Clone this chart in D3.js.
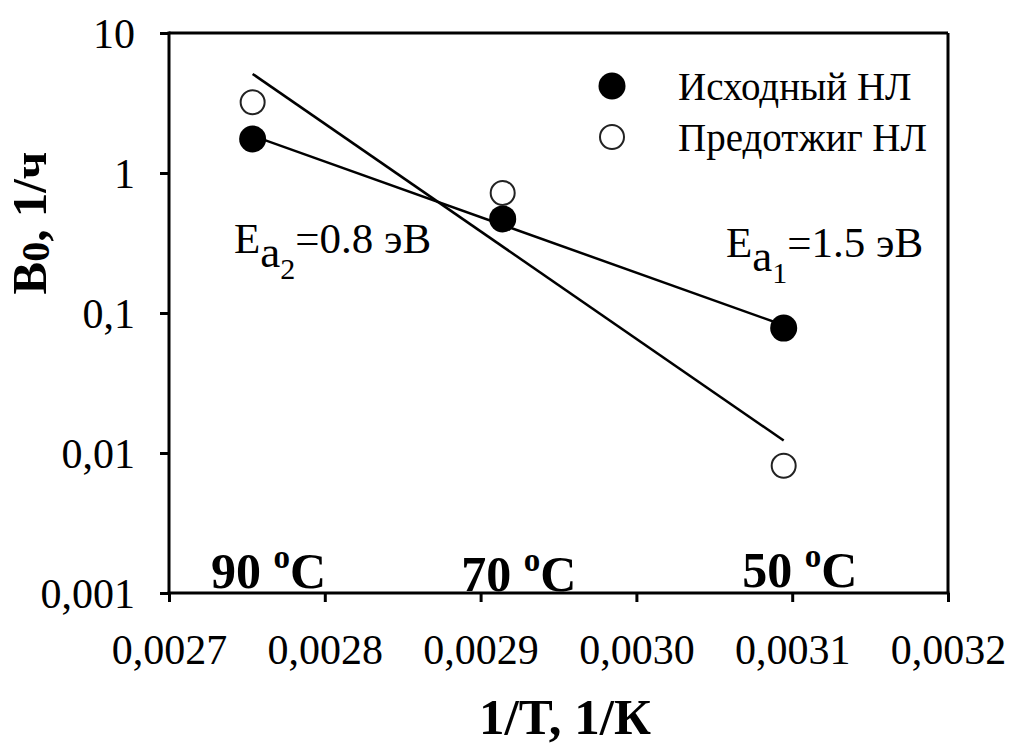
<!DOCTYPE html>
<html><head><meta charset="utf-8">
<script src="https://cdn.jsdelivr.net/npm/d3@7"></script>
<style>
html,body{margin:0;padding:0;background:#fff;}
</style></head>
<body>
<svg id="chart" width="1011" height="747"></svg>
<script>
// ---- data ----
const tempLabels = ["90", "70", "50"];
const invT = [1/363.15, 1/343.15, 1/323.15];
const filledB0 = [1.75, 0.47, 0.078];   // Исходный НЛ
const openB0 = [3.2, 0.72, 0.0081];     // Предотжиг НЛ
const xTicks = [0.0027, 0.0028, 0.0029, 0.0030, 0.0031, 0.0032];
const xTickLabels = ["0,0027", "0,0028", "0,0029", "0,0030", "0,0031", "0,0032"];
const yTicks = [10, 1, 0.1, 0.01, 0.001];
const yTickLabels = ["10", "1", "0,1", "0,01", "0,001"];
const seriesNames = ["Исходный НЛ", "Предотжиг НЛ"];

const FONT = "'Liberation Serif', 'Times New Roman', Times, serif";
const svg = d3.select("#chart");
const L = 169, R = 948, T = 33, B = 593;
const x = d3.scaleLinear().domain([0.0027, 0.0032]).range([L, R]);
const y = d3.scaleLog().domain([0.001, 10]).range([B, T]);

// frame
const frame = svg.append("g");
frame.append("line").attr("x1", L).attr("x2", R).attr("y1", T).attr("y2", T).attr("stroke", "#000").attr("stroke-width", 3);
frame.append("line").attr("x1", R).attr("x2", R).attr("y1", T).attr("y2", B).attr("stroke", "#000").attr("stroke-width", 3);

// axes
const xAxis = d3.axisBottom(x).tickValues(xTicks).tickFormat((d, i) => xTickLabels[i]).tickSize(9).tickPadding(32);
const gx = svg.append("g").attr("transform", `translate(0,${B})`).call(xAxis);
gx.attr("font-family", null).attr("font-size", null);
gx.select(".domain").attr("stroke-width", 3).attr("d", `M${L-1.5},0H${R+1.5}`);
gx.selectAll(".tick line").attr("stroke-width", 3);
gx.selectAll("text").style("font-size", "42px").attr("dy", "0.71em");

const yAxis = d3.axisLeft(y).tickValues(yTicks).tickFormat((d, i) => yTickLabels[i]).tickSize(9).tickPadding(25);
const gy = svg.append("g").attr("transform", `translate(${L},0)`).call(yAxis);
gy.attr("font-family", null).attr("font-size", null);
gy.select(".domain").attr("stroke-width", 3).attr("d", `M0,${T-1.5}V${B+1.5}`);
gy.selectAll(".tick line").attr("stroke-width", 3);
gy.selectAll("text").style("font-size", "42px").attr("dy", "0.34em");

// regression fit in log space
function fit(xs, ys) {
  const ly = ys.map(v => Math.log10(v));
  const mx = d3.mean(xs), my = d3.mean(ly);
  const sxy = d3.sum(xs, (v, i) => (v - mx) * (ly[i] - my));
  const sxx = d3.sum(xs, v => (v - mx) ** 2);
  const b = sxy / sxx, a = my - b * mx;
  const x0 = d3.min(xs), x1 = d3.max(xs);
  return [[x0, Math.pow(10, a + b * x0)], [x1, Math.pow(10, a + b * x1)]];
}
const line = d3.line().x(d => x(d[0])).y(d => y(d[1]));
svg.append("path").attr("d", line(fit(invT, filledB0))).attr("fill", "none").attr("stroke", "#000").attr("stroke-width", 2.5);
svg.append("path").attr("d", line(fit(invT, openB0))).attr("fill", "none").attr("stroke", "#000").attr("stroke-width", 2.5);

// points
svg.selectAll(".pf").data(invT.map((v, i) => [v, filledB0[i]])).enter().append("circle")
  .attr("cx", d => x(d[0])).attr("cy", d => y(d[1])).attr("r", 13.5).attr("fill", "#000");
svg.selectAll(".po").data(invT.map((v, i) => [v, openB0[i]])).enter().append("circle")
  .attr("cx", d => x(d[0])).attr("cy", d => y(d[1])).attr("r", 12).attr("fill", "#fff").attr("stroke", "#222").attr("stroke-width", 2);

// legend
const leg = svg.append("g");
leg.append("circle").attr("cx", 612).attr("cy", 86).attr("r", 13.5).attr("fill", "#000");
leg.append("circle").attr("cx", 612).attr("cy", 137).attr("r", 12).attr("fill", "#fff").attr("stroke", "#222").attr("stroke-width", 2);
leg.append("text").attr("x", 678).attr("y", 100).style("font-size", "39px").text(seriesNames[0]);
leg.append("text").attr("x", 678).attr("y", 151).style("font-size", "39px").text(seriesNames[1]);

// temperature labels
const tempY = [588, 591, 587];
tempLabels.forEach((t, i) => {
  const tx = svg.append("text").attr("x", x(invT[i]) + 16).attr("y", tempY[i]).attr("text-anchor", "middle")
    .style("font-size", "50px").style("font-weight", "bold");
  tx.append("tspan").text(t + " ");
  tx.append("tspan").attr("dy", -20).style("font-size", "33px").text("o");
  tx.append("tspan").attr("dy", 20).text("C");
});

// activation energies
function ea(xp, yp, sub, val) {
  const t = svg.append("text").attr("x", xp).attr("y", yp).style("font-size", "43px");
  t.append("tspan").text("E");
  t.append("tspan").attr("dy", 14).style("font-size", "45px").text("a");
  t.append("tspan").attr("dy", 12).style("font-size", "30px").text(sub);
  t.append("tspan").attr("dy", -26).text("=" + val + " эВ");
}
ea(234, 253, "2", "0.8");
ea(726, 257, "1", "1.5");

// axis titles
const yt = svg.append("text").attr("transform", "translate(46,223) rotate(-90)").attr("text-anchor", "middle")
  .style("font-size", "49px").style("font-weight", "bold");
yt.append("tspan").text("B");
yt.append("tspan").attr("dy", 3).style("font-size", "40px").text("0");
yt.append("tspan").attr("dy", -3).text(", 1/ч");

svg.append("text").attr("x", 565).attr("y", 734).attr("text-anchor", "middle")
  .style("font-size", "51px").style("font-weight", "bold").text("1/T, 1/К");

svg.selectAll("text").style("font-family", FONT).attr("fill", "#000");
</script>
</body></html>
